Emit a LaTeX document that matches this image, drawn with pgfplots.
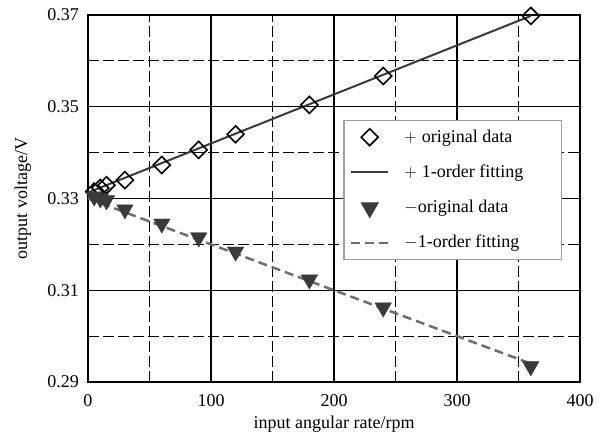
\documentclass[border=0pt]{standalone}
\usepackage{fontspec}
\setmainfont{Liberation Serif}
\usepackage{pgfplots}
\pgfplotsset{compat=1.18}
\definecolor{dk}{HTML}{3A3A3A}
\definecolor{gr}{HTML}{6E6E6E}
\pgfplotsset{myleg/.style={legend image code/.code={\draw[mark repeat=2,mark phase=2,##1] plot coordinates {(0pt,0pt)(18.5pt,0pt)(37pt,0pt)};}}}
\begin{document}
\fontsize{18}{21}\selectfont
\begin{tikzpicture}
\begin{axis}[name=ax, scale only axis, width=492pt, height=367pt,
 xmin=0,xmax=400,ymin=0.29,ymax=0.37,
 xtick={0,100,200,300,400}, xticklabels={0,100,200,300,400},
 ytick={0.29,0.31,0.33,0.35,0.37}, yticklabels={0.29,0.31,0.33,0.35,0.37},
 minor xtick={50,150,250,350}, minor ytick={0.30,0.32,0.34,0.36},
 grid=both,
 major grid style={black,line width=1.1pt},
 minor grid style={black,line width=1pt,dash pattern=on 11pt off 4pt},
 major tick length=0pt, minor tick length=0pt,
 axis line style={line width=2.5pt},
 tick label style={font=\fontsize{18}{21}\selectfont},
 label style={font=\fontsize{18}{21}\selectfont},
 yticklabel style={xshift=-3pt},
 xticklabel style={yshift=-6pt},
 xlabel={input angular rate/rpm},
 xlabel style={yshift=3pt},
 ylabel={output voltage/V},
 ylabel style={yshift=4pt},
 legend cell align=left,
 legend style={at={(0.9634,0.714)}, anchor=north east, draw=gray!75, line width=1.2pt,
   fill=white, font=\fontsize{18}{21}\selectfont, row sep=16pt, inner xsep=6pt, inner ysep=7pt,
   /tikz/every odd column/.append style={column sep=13pt}},
 myleg,
]
\addplot[black, only marks, mark=square, mark size=6pt, mark options={rotate=45, line width=1.6pt, fill=white}, myleg]
 coordinates {(5,0.3315)(10,0.3323)(15,0.3329)(30,0.3340)(60,0.3373)(90,0.3406)(120,0.3440)(180,0.3504)(240,0.3567)(360,0.3698)};
\addlegendentry{$+$\hspace{5pt}original data}
\addplot[dk, line width=2pt] coordinates {(0,0.3313)(360,0.3698)};
\addlegendentry{$+$\hspace{5pt}1-order fitting\hspace*{30pt}}
\addplot[dk, only marks, mark=triangle*, mark size=9.5pt, mark options={rotate=180, fill=dk}, myleg]
 coordinates {(5,0.3304)(10,0.3300)(15,0.3296)(30,0.3276)(60,0.3245)(90,0.3215)(120,0.3184)(180,0.3123)(240,0.3062)(360,0.2934)};
\addlegendentry{$-$original data}
\addplot[gr, line width=2.5pt, dash pattern=on 9pt off 5pt] coordinates {(0,0.3300)(360,0.2940)};
\addlegendentry{$-$1-order fitting}
\end{axis}
\pgfresetboundingbox
\path[use as bounding box] ([shift={(-88pt,-50pt)}]ax.south west) rectangle ([shift={(21pt,15pt)}]ax.north east);
\end{tikzpicture}
\end{document}
